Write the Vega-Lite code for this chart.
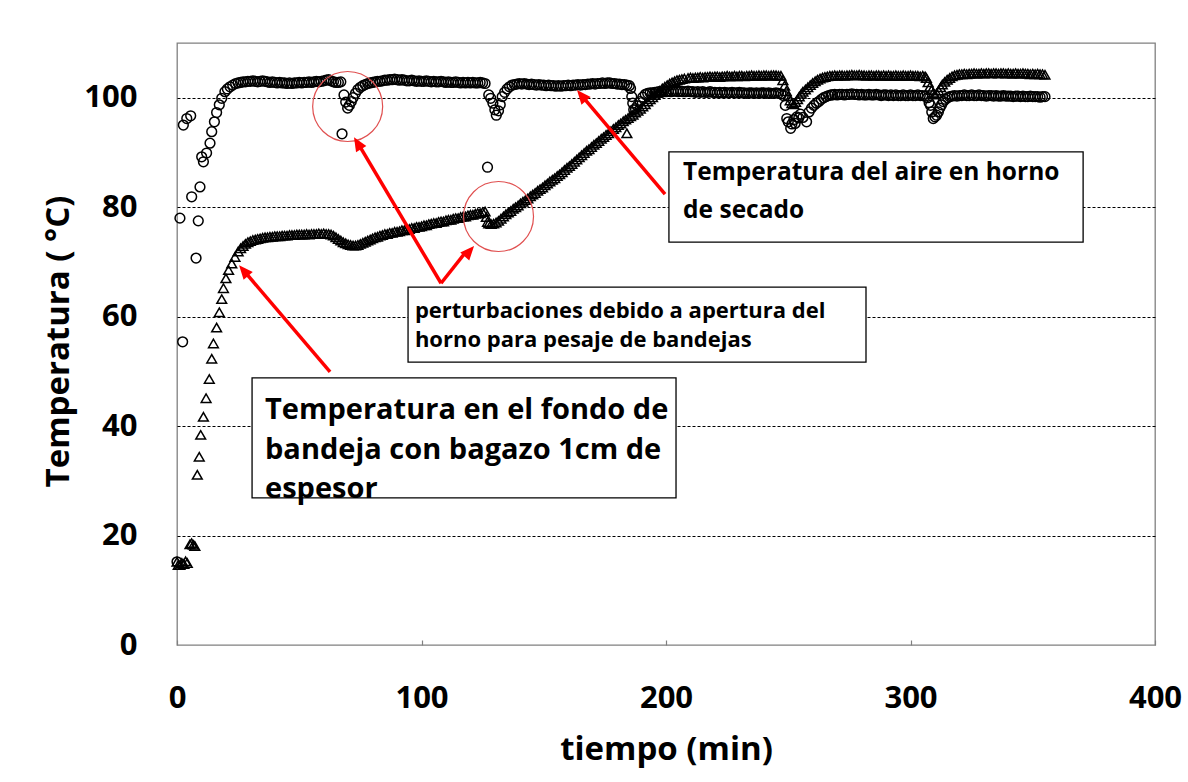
{
"$schema": "https://vega.github.io/schema/vega-lite/v6.json",
"width": 978,
"height": 602,
"autosize": {"type": "none"},
"padding": {"left": 177, "top": 43, "right": 33, "bottom": 137},
"background": "white",
"config": {"view": {"stroke": "#808080", "strokeWidth": 1.3}, "font": "Open Sans"},
"datasets": {
"aire": [
{"t":0,"v":15.2},{"t":1.2,"v":78},{"t":2.3,"v":55.4},{"t":2.6,"v":95},{"t":4,"v":96.2},{"t":5.6,"v":96.7},{"t":6,"v":81.9},{"t":7.8,"v":70.7},{"t":8.7,"v":77.5},{"t":9.4,"v":83.7},{"t":10.1,"v":89.2},{"t":10.8,"v":88.3},{"t":12.1,"v":89.9},{"t":13.5,"v":91.7},{"t":14.2,"v":93.8},{"t":15.3,"v":95.6},{"t":16.2,"v":97.3},{"t":17.3,"v":98.7},{"t":18.3,"v":99.9},{"t":19.6,"v":101.1},{"t":20.6,"v":101.6},{"t":21.7,"v":102},{"t":22.8,"v":102.3},{"t":24,"v":102.6},{"t":25,"v":102.7},{"t":26,"v":102.8},{"t":27,"v":102.9},{"t":28,"v":102.9},{"t":29,"v":103},
{"t":30,"v":103},{"t":31,"v":103.1},{"t":32,"v":103},{"t":33,"v":102.9},{"t":34,"v":103},{"t":35,"v":103.1},{"t":36,"v":103},{"t":37,"v":102.9},{"t":38,"v":102.8},{"t":39,"v":102.9},{"t":40,"v":102.8},{"t":41,"v":102.7},{"t":42,"v":102.8},{"t":43,"v":102.7},{"t":44,"v":102.7},{"t":45,"v":102.6},{"t":46,"v":102.7},{"t":47,"v":102.6},{"t":48,"v":102.7},{"t":49,"v":102.7},{"t":50,"v":102.8},{"t":51,"v":102.7},{"t":52,"v":102.8},{"t":53,"v":102.8},{"t":54,"v":102.9},{"t":55,"v":102.8},{"t":56,"v":102.9},{"t":57,"v":103},{"t":58,"v":102.9},{"t":59,"v":103},{"t":60,"v":103.1},{"t":61,"v":103.2},{"t":62,"v":103.3},{"t":63,"v":103.1},{"t":64,"v":102.9},{"t":65,"v":102.8},{"t":66,"v":102.8},{"t":67,"v":102.9},
{"t":67.5,"v":93.4},{"t":68.3,"v":100.5},{"t":69,"v":99.2},{"t":69.8,"v":98.1},{"t":70.5,"v":98.6},{"t":71.3,"v":99.3},{"t":72,"v":100},{"t":73,"v":100.8},{"t":74,"v":101.5},{"t":75,"v":101.9},{"t":76,"v":102.2},{"t":77,"v":102.4},{"t":78,"v":102.6},{"t":79,"v":102.7},{"t":80,"v":102.8},
{"t":81,"v":102.9},{"t":82,"v":103},{"t":83,"v":103},{"t":84,"v":103.1},{"t":85,"v":103.2},{"t":86,"v":103.2},{"t":87,"v":103.3},{"t":88,"v":103.3},{"t":89,"v":103.4},{"t":90,"v":103.3},{"t":91,"v":103.2},{"t":92,"v":103.3},{"t":93,"v":103.2},{"t":94,"v":103.1},{"t":95,"v":103.1},{"t":96,"v":103.2},{"t":97,"v":103.1},{"t":98,"v":103},{"t":99,"v":103.1},{"t":100,"v":103},{"t":101,"v":103},{"t":102,"v":103.1},{"t":103,"v":103},{"t":104,"v":102.9},{"t":105,"v":103},{"t":106,"v":102.9},{"t":107,"v":102.9},{"t":108,"v":103},{"t":109,"v":102.9},{"t":110,"v":102.8},{"t":111,"v":102.9},{"t":112,"v":102.8},{"t":113,"v":102.8},{"t":114,"v":102.9},{"t":115,"v":102.8},{"t":116,"v":102.7},{"t":117,"v":102.8},{"t":118,"v":102.7},{"t":119,"v":102.8},{"t":120,"v":102.7},{"t":121,"v":102.8},{"t":122,"v":102.7},{"t":123,"v":102.7},{"t":124,"v":102.8},{"t":125,"v":102.7},{"t":126,"v":102.6},
{"t":127,"v":87.3},{"t":127.5,"v":100.5},{"t":128.3,"v":99.9},{"t":129.2,"v":99},{"t":130,"v":97.8},{"t":130.6,"v":96.8},{"t":131.5,"v":97.6},{"t":132.2,"v":98.7},{"t":133,"v":100.2},{"t":134,"v":101},{"t":135,"v":101.6},{"t":136,"v":102},{"t":137,"v":102.3},{"t":138,"v":102.4},{"t":139,"v":102.5},
{"t":140,"v":102.6},{"t":141,"v":102.5},{"t":142,"v":102.6},{"t":143,"v":102.5},{"t":144,"v":102.4},{"t":145,"v":102.5},{"t":146,"v":102.4},{"t":147,"v":102.3},{"t":148,"v":102.4},{"t":149,"v":102.3},{"t":150,"v":102.3},{"t":151,"v":102.2},{"t":152,"v":102.3},{"t":153,"v":102.2},{"t":154,"v":102.2},{"t":155,"v":102.1},{"t":156,"v":102.2},{"t":157,"v":102.1},{"t":158,"v":102.2},{"t":159,"v":102.2},{"t":160,"v":102.3},{"t":161,"v":102.2},{"t":162,"v":102.3},{"t":163,"v":102.3},{"t":164,"v":102.4},{"t":165,"v":102.3},{"t":166,"v":102.4},{"t":167,"v":102.4},{"t":168,"v":102.5},{"t":169,"v":102.5},{"t":170,"v":102.6},{"t":171,"v":102.5},{"t":172,"v":102.6},{"t":173,"v":102.6},{"t":174,"v":102.7},{"t":175,"v":102.6},{"t":176,"v":102.7},{"t":177,"v":102.7},{"t":178,"v":102.6},{"t":179,"v":102.6},{"t":180,"v":102.5},{"t":181,"v":102.5},{"t":182,"v":102.4},{"t":183,"v":102.4},{"t":184,"v":102.3},{"t":185,"v":102.2},
{"t":185.5,"v":101.7},{"t":186,"v":100.2},{"t":186.4,"v":99},{"t":186.8,"v":97.8},{"t":187.5,"v":98},{"t":188.3,"v":98.5},{"t":189.4,"v":99.3},{"t":190.5,"v":100.1},{"t":191.5,"v":100.6},{"t":192.5,"v":100.8},{"t":193.5,"v":100.9},{"t":194.5,"v":100.9},{"t":195.5,"v":101},
{"t":196,"v":101},{"t":197,"v":101.1},{"t":198,"v":101},{"t":199,"v":101.1},{"t":200,"v":101.1},{"t":201,"v":101.2},{"t":202,"v":101.1},{"t":203,"v":101.2},{"t":204,"v":101.2},{"t":205,"v":101.1},{"t":206,"v":101.2},{"t":207,"v":101.1},{"t":208,"v":101.1},{"t":209,"v":101.2},{"t":210,"v":101.1},{"t":211,"v":101.1},{"t":212,"v":101},{"t":213,"v":101.1},{"t":214,"v":101},{"t":215,"v":101.1},{"t":216,"v":101},{"t":217,"v":101},{"t":218,"v":101.1},{"t":219,"v":101},{"t":220,"v":101},{"t":221,"v":100.9},{"t":222,"v":101},{"t":223,"v":100.9},{"t":224,"v":101},{"t":225,"v":100.9},{"t":226,"v":100.9},{"t":227,"v":101},{"t":228,"v":100.9},{"t":229,"v":100.9},{"t":230,"v":101},{"t":231,"v":100.9},{"t":232,"v":100.9},{"t":233,"v":100.8},{"t":234,"v":100.9},{"t":235,"v":100.9},{"t":236,"v":100.8},{"t":237,"v":100.9},{"t":238,"v":100.8},{"t":239,"v":100.9},{"t":240,"v":100.9},{"t":241,"v":100.8},{"t":242,"v":100.9},{"t":243,"v":100.8},{"t":244,"v":100.8},{"t":245,"v":100.9},{"t":246,"v":100.8},{"t":247,"v":100.7},{"t":248,"v":100.4},
{"t":248.8,"v":98.6},{"t":249.4,"v":96.2},{"t":250,"v":95.6},{"t":251,"v":94.4},{"t":251.5,"v":95.2},{"t":252.3,"v":96},{"t":252.8,"v":95.3},{"t":253.5,"v":96.5},{"t":254.3,"v":96.3},{"t":255,"v":97},{"t":256,"v":96.4},{"t":257.5,"v":95.6},{"t":258.5,"v":97.4},{"t":259.5,"v":98.1},{"t":260.5,"v":98.6},{"t":261.5,"v":99},{"t":262.5,"v":99.3},{"t":263.5,"v":99.7},{"t":264.5,"v":100},{"t":265.5,"v":100.2},{"t":266.5,"v":100.4},{"t":267.5,"v":100.5},
{"t":268,"v":100.5},{"t":269,"v":100.6},{"t":270,"v":100.5},{"t":271,"v":100.6},{"t":272,"v":100.6},{"t":273,"v":100.5},{"t":274,"v":100.6},{"t":275,"v":100.6},{"t":276,"v":100.7},{"t":277,"v":100.6},{"t":278,"v":100.6},{"t":279,"v":100.5},{"t":280,"v":100.6},{"t":281,"v":100.5},{"t":282,"v":100.5},{"t":283,"v":100.6},{"t":284,"v":100.5},{"t":285,"v":100.5},{"t":286,"v":100.6},{"t":287,"v":100.5},{"t":288,"v":100.4},{"t":289,"v":100.5},{"t":290,"v":100.5},{"t":291,"v":100.4},{"t":292,"v":100.5},{"t":293,"v":100.4},{"t":294,"v":100.5},{"t":295,"v":100.4},{"t":296,"v":100.4},{"t":297,"v":100.5},{"t":298,"v":100.4},{"t":299,"v":100.4},{"t":300,"v":100.5},{"t":301,"v":100.4},{"t":302,"v":100.4},{"t":303,"v":100.5},{"t":304,"v":100.4},{"t":305,"v":100.4},{"t":306,"v":100.3},{"t":307,"v":100},
{"t":307.6,"v":99.1},{"t":308.2,"v":98.6},{"t":308.7,"v":97.4},{"t":309.3,"v":96.2},{"t":310,"v":96.5},{"t":310.7,"v":96.8},{"t":311.4,"v":97.4},{"t":312,"v":98.1},{"t":312.7,"v":98.7},{"t":313.4,"v":99.3},{"t":314.3,"v":99.7},{"t":315.2,"v":100},{"t":316,"v":100.2},
{"t":317,"v":100.3},{"t":318,"v":100.4},{"t":319,"v":100.3},{"t":320,"v":100.4},{"t":321,"v":100.4},{"t":322,"v":100.5},{"t":323,"v":100.4},{"t":324,"v":100.4},{"t":325,"v":100.5},{"t":326,"v":100.4},{"t":327,"v":100.4},{"t":328,"v":100.5},{"t":329,"v":100.4},{"t":330,"v":100.4},{"t":331,"v":100.3},{"t":332,"v":100.4},{"t":333,"v":100.4},{"t":334,"v":100.3},{"t":335,"v":100.4},{"t":336,"v":100.3},{"t":337,"v":100.3},{"t":338,"v":100.4},{"t":339,"v":100.3},{"t":340,"v":100.3},{"t":341,"v":100.3},{"t":342,"v":100.2},{"t":343,"v":100.3},{"t":344,"v":100.3},{"t":345,"v":100.2},{"t":346,"v":100.3},{"t":347,"v":100.2},{"t":348,"v":100.2},{"t":349,"v":100.3},{"t":350,"v":100.2},{"t":351,"v":100.2},{"t":352,"v":100.2},{"t":353,"v":100.1},{"t":354,"v":100.2},{"t":355,"v":100.2}
],
"bandeja": [
{"t":0,"v":15.2},{"t":0.5,"v":14.6},{"t":1.2,"v":14.6},{"t":2,"v":15},{"t":2.8,"v":14.8},{"t":3.5,"v":15.3},{"t":4.2,"v":15},{"t":5.3,"v":18.4},{"t":6,"v":18.6},{"t":6.7,"v":18.3},{"t":7.3,"v":18.1},{"t":8.3,"v":31.1},{"t":9.1,"v":34.4},{"t":9.7,"v":38.4},{"t":10.8,"v":41.7},{"t":11.9,"v":45.1},{"t":13.2,"v":48.6},{"t":14.2,"v":52.3},{"t":14.9,"v":55.1},{"t":16.2,"v":58},{"t":17.3,"v":60.8},{"t":18.3,"v":63.2},{"t":19,"v":65.2},{"t":20,"v":67},{"t":21.1,"v":68.5},{"t":22.4,"v":69.7},{"t":23.7,"v":70.9},{"t":25,"v":71.9},{"t":26,"v":72.5},{"t":27,"v":72.9},{"t":28,"v":73.3},{"t":29,"v":73.6},{"t":30,"v":73.8},{"t":31,"v":74},{"t":32,"v":74.1},{"t":33,"v":74.2},{"t":34,"v":74.3},{"t":35,"v":74.4},{"t":36,"v":74.5},{"t":37,"v":74.5},{"t":38,"v":74.6},
{"t":39,"v":74.6},{"t":40,"v":74.7},{"t":41,"v":74.7},{"t":42,"v":74.7},{"t":43,"v":74.8},{"t":44,"v":74.8},{"t":45,"v":74.8},{"t":46,"v":74.9},{"t":47,"v":74.9},{"t":48,"v":74.9},{"t":49,"v":75},{"t":50,"v":75},{"t":51,"v":75},{"t":52,"v":75},{"t":53,"v":75.1},{"t":54,"v":75},{"t":55,"v":75.1},{"t":56,"v":75.1},{"t":57,"v":75.1},{"t":58,"v":75.2},{"t":59,"v":75.1},{"t":60,"v":75.2},{"t":61,"v":75.1},{"t":62,"v":75.1},{"t":63,"v":75},
{"t":64,"v":74.8},{"t":65,"v":74.5},{"t":66,"v":74.2},{"t":67,"v":73.9},{"t":68,"v":73.6},{"t":69,"v":73.4},{"t":70,"v":73.2},{"t":71,"v":73.1},{"t":72,"v":73},{"t":73,"v":73},{"t":74,"v":73.1},{"t":75,"v":73.3},{"t":76,"v":73.5},{"t":77,"v":73.7},{"t":78,"v":73.9},{"t":79,"v":74.1},{"t":80,"v":74.3},{"t":81,"v":74.5},{"t":82,"v":74.6},{"t":83,"v":74.8},
{"t":84,"v":74.9},{"t":85,"v":75.1},{"t":86,"v":75.1},{"t":87,"v":75.3},{"t":88,"v":75.3},{"t":89,"v":75.5},{"t":90,"v":75.5},{"t":91,"v":75.6},{"t":92,"v":75.8},{"t":93,"v":75.8},{"t":94,"v":76},{"t":95,"v":76},{"t":96,"v":76.2},{"t":97,"v":76.2},{"t":98,"v":76.4},{"t":99,"v":76.4},{"t":100,"v":76.5},{"t":101,"v":76.7},{"t":102,"v":76.7},{"t":103,"v":76.9},{"t":104,"v":77},{"t":105,"v":77.1},{"t":106,"v":77.1},{"t":107,"v":77.3},{"t":108,"v":77.4},{"t":109,"v":77.4},{"t":110,"v":77.6},{"t":111,"v":77.7},{"t":112,"v":77.7},{"t":113,"v":77.9},{"t":114,"v":78},{"t":115,"v":78},{"t":116,"v":78.2},{"t":117,"v":78.3},{"t":118,"v":78.3},{"t":119,"v":78.5},{"t":120,"v":78.6},{"t":121,"v":78.6},{"t":122,"v":78.8},{"t":123,"v":78.9},{"t":124,"v":78.9},{"t":125,"v":79.1},{"t":126,"v":79.2},
{"t":126.5,"v":78.2},{"t":127,"v":77.3},{"t":127.5,"v":77},{"t":128.5,"v":76.9},{"t":129.5,"v":77},{"t":130.5,"v":77.2},{"t":131.5,"v":77.5},{"t":132.5,"v":77.9},{"t":133.5,"v":78.3},{"t":134.5,"v":78.7},{"t":135.5,"v":79},{"t":136.5,"v":79.3},{"t":137.5,"v":79.7},{"t":138.5,"v":80},{"t":139.5,"v":80.3},{"t":140.5,"v":80.7},{"t":141.5,"v":81},{"t":142.5,"v":81.3},{"t":143.5,"v":81.6},{"t":144.5,"v":82},{"t":145.5,"v":82.3},{"t":146.5,"v":82.6},{"t":147.5,"v":83},{"t":148.5,"v":83.3},{"t":149.5,"v":83.6},{"t":150.5,"v":84},{"t":151.5,"v":84.3},{"t":152.5,"v":84.7},{"t":153.5,"v":85},{"t":154.5,"v":85.3},{"t":155.5,"v":85.7},{"t":156.5,"v":86},{"t":157.5,"v":86.4},{"t":158.5,"v":86.8},{"t":159.5,"v":87.2},{"t":160.5,"v":87.5},{"t":161.5,"v":87.9},{"t":162.5,"v":88.3},{"t":163.5,"v":88.7},{"t":164.5,"v":89.1},{"t":165.5,"v":89.5},{"t":166.5,"v":89.9},{"t":167.5,"v":90.3},{"t":168.5,"v":90.6},{"t":169.5,"v":91},{"t":170.5,"v":91.4},{"t":171.5,"v":91.7},{"t":172.5,"v":92.1},{"t":173.5,"v":92.5},{"t":174.5,"v":92.8},{"t":175.5,"v":93.2},{"t":176.5,"v":93.5},{"t":177.5,"v":93.9},{"t":178.5,"v":94.3},{"t":179.5,"v":94.6},{"t":180.5,"v":95},{"t":181.5,"v":95.3},{"t":182.5,"v":95.7},{"t":183.5,"v":96},{"t":184,"v":93.5},{"t":184.5,"v":96.3},{"t":185.5,"v":96.6},{"t":186.5,"v":96.9},{"t":187.5,"v":97.3},{"t":188.5,"v":97.6},{"t":189.5,"v":98},{"t":190.5,"v":98.4},{"t":191.5,"v":98.8},{"t":192.5,"v":99.3},{"t":193.5,"v":99.7},{"t":194.5,"v":100.1},{"t":195.5,"v":100.5},{"t":196.5,"v":100.9},{"t":197.5,"v":101.3},{"t":198.5,"v":101.7},{"t":199.5,"v":102},{"t":200.5,"v":102.3},{"t":201.5,"v":102.6},{"t":202.5,"v":102.8},{"t":203.5,"v":103},{"t":204.5,"v":103.2},{"t":205.5,"v":103.3},{"t":206.5,"v":103.4},{"t":207.5,"v":103.5},
{"t":209,"v":103.6},{"t":210,"v":103.7},{"t":211,"v":103.6},{"t":212,"v":103.7},{"t":213,"v":103.7},{"t":214,"v":103.8},{"t":215,"v":103.7},{"t":216,"v":103.8},{"t":217,"v":103.8},{"t":218,"v":103.9},{"t":219,"v":103.8},{"t":220,"v":103.9},{"t":221,"v":103.9},{"t":222,"v":103.8},{"t":223,"v":103.9},{"t":224,"v":103.9},{"t":225,"v":104},{"t":226,"v":103.9},{"t":227,"v":103.9},{"t":228,"v":104},{"t":229,"v":103.9},{"t":230,"v":104},{"t":231,"v":104},{"t":232,"v":103.9},{"t":233,"v":104},{"t":234,"v":104},{"t":235,"v":104.1},{"t":236,"v":104},{"t":237,"v":104},{"t":238,"v":104.1},{"t":239,"v":104},{"t":240,"v":104.1},{"t":241,"v":104.1},{"t":242,"v":104},{"t":243,"v":104.1},{"t":244,"v":104.1},{"t":245,"v":104.1},{"t":246,"v":104},{"t":247,"v":104},
{"t":247.8,"v":103.2},{"t":248.5,"v":102.2},{"t":249.2,"v":101.2},{"t":250,"v":100.3},{"t":250.8,"v":99.5},{"t":251.5,"v":99},{"t":252.3,"v":98.8},{"t":253,"v":99.2},{"t":253.8,"v":99.7},{"t":254.5,"v":100.2},{"t":255.3,"v":100.7},{"t":256,"v":101.1},{"t":257,"v":101.5},{"t":258,"v":101.9},{"t":259,"v":102.3},{"t":260,"v":102.7},{"t":261,"v":103},{"t":262,"v":103.3},{"t":263,"v":103.5},{"t":264,"v":103.7},{"t":265,"v":103.8},{"t":266,"v":103.9},{"t":267,"v":104},
{"t":268,"v":104},{"t":269,"v":104.1},{"t":270,"v":104},{"t":271,"v":104.1},{"t":272,"v":104.1},{"t":273,"v":104},{"t":274,"v":104.1},{"t":275,"v":104.1},{"t":276,"v":104.2},{"t":277,"v":104.1},{"t":278,"v":104.1},{"t":279,"v":104.2},{"t":280,"v":104.1},{"t":281,"v":104.1},{"t":282,"v":104},{"t":283,"v":104.1},{"t":284,"v":104.1},{"t":285,"v":104},{"t":286,"v":104.1},{"t":287,"v":104.1},{"t":288,"v":104},{"t":289,"v":104.1},{"t":290,"v":104},{"t":291,"v":104.1},{"t":292,"v":104},{"t":293,"v":104},{"t":294,"v":104.1},{"t":295,"v":104},{"t":296,"v":104},{"t":297,"v":104.1},{"t":298,"v":104},{"t":299,"v":104},{"t":300,"v":104.1},{"t":301,"v":104},{"t":302,"v":104},{"t":303,"v":104},{"t":304,"v":103.9},{"t":305,"v":104},{"t":306,"v":103.9},
{"t":306.5,"v":103.6},{"t":307.2,"v":102.8},{"t":307.9,"v":102},{"t":308.6,"v":101.4},{"t":309.3,"v":100.9},{"t":310,"v":100.6},{"t":310.8,"v":100.8},{"t":311.5,"v":101.3},{"t":312.3,"v":101.9},{"t":313,"v":102.4},{"t":314,"v":102.9},{"t":315,"v":103.3},{"t":316,"v":103.6},{"t":317,"v":103.9},{"t":318,"v":104.1},{"t":319,"v":104.2},{"t":320,"v":104.3},
{"t":321,"v":104.3},{"t":322,"v":104.4},{"t":323,"v":104.3},{"t":324,"v":104.4},{"t":325,"v":104.4},{"t":326,"v":104.5},{"t":327,"v":104.4},{"t":328,"v":104.4},{"t":329,"v":104.5},{"t":330,"v":104.4},{"t":331,"v":104.5},{"t":332,"v":104.5},{"t":333,"v":104.4},{"t":334,"v":104.5},{"t":335,"v":104.5},{"t":336,"v":104.4},{"t":337,"v":104.5},{"t":338,"v":104.5},{"t":339,"v":104.4},{"t":340,"v":104.5},{"t":341,"v":104.4},{"t":342,"v":104.4},{"t":343,"v":104.5},{"t":344,"v":104.4},{"t":345,"v":104.4},{"t":346,"v":104.5},{"t":347,"v":104.4},{"t":348,"v":104.4},{"t":349,"v":104.3},{"t":350,"v":104.4},{"t":351,"v":104.3},{"t":352,"v":104.4},{"t":353,"v":104.3},{"t":354,"v":104.3},{"t":355,"v":104.2}
],
"rings": [{"t":69.8,"v":98.4},{"t":131.5,"v":78.3}],
"arrows": [
{"id":"a","t":199.6,"v":82.4,"t2":165.7,"v2":100.3,"tt":163.6,"vt":101.4},
{"id":"b","t":108,"v":66.1,"t2":74.1,"v2":91.6,"tt":72.4,"vt":92.8},
{"id":"c","t":108,"v":66.1,"t2":118.1,"v2":71.8,"tt":121.5,"vt":72.9},
{"id":"d","t":62.6,"v":49.9,"t2":27.5,"v2":68.3,"tt":25.4,"vt":69.4}
],
"boxes": [
{"t":201.2,"v":90.1,"t2":370.6,"v2":73.6},
{"t":94.5,"v":65.4,"t2":281.8,"v2":51.7},
{"t":30.7,"v":48.8,"t2":204.1,"v2":26.9}
]
},
"encoding": {
"x": {"field": "t", "type": "quantitative", "scale": {"domain": [0, 400], "nice": false},
"axis": {"values": [0, 100, 200, 300, 400], "title": "tiempo (min)", "labelFontSize": 31, "labelFont": "Open Sans", "labelFontWeight": "bold", "labelColor": "black", "labelPadding": 43, "ticks": true, "tickSize": -5, "tickColor": "#808080", "tickWidth": 1.2, "domain": false, "grid": false, "labelFlush": false, "labelOverlap": false, "titleFont": "Open Sans", "titleFontSize": 33, "titleFontWeight": "bold", "titleColor": "black", "titleY": 104, "titleBaseline": "middle"}},
"y": {"field": "v", "type": "quantitative", "scale": {"domain": [0, 110], "nice": false},
"axis": {"values": [0, 20, 40, 60, 80, 100], "title": "Temperatura ( °C)", "labelFontSize": 31, "labelFont": "Open Sans", "labelFontWeight": "bold", "labelColor": "black", "labelPadding": 40, "ticks": false, "domain": false, "grid": true, "gridColor": "black", "gridDash": [3, 2], "gridWidth": 1.1, "gridOpacity": {"condition": {"test": "datum.value === 0", "value": 0}, "value": 1}, "titleFont": "Open Sans", "titleFontSize": 33, "titleFontWeight": "bold", "titleColor": "black", "titleAngle": -90, "titleX": -119, "titleY": 298, "titleAlign": "center", "titleBaseline": "middle"}}
},
"layer": [
{
"data": {"name": "aire"},
"mark": {"type": "point", "shape": "circle", "size": 95, "filled": false, "stroke": "black", "strokeWidth": 1.5, "opacity": 1}
},
{
"data": {"name": "bandeja"},
"mark": {"type": "point", "shape": "triangle-up", "size": 95, "filled": false, "stroke": "black", "strokeWidth": 1.5, "opacity": 1}
},
{
"data": {"name": "rings"},
"mark": {"type": "point", "shape": "circle", "size": 4900, "filled": false, "stroke": "#e05050", "strokeWidth": 1.2, "opacity": 1}
},
{
"data": {"name": "arrows"},
"mark": {"type": "rule", "color": "#ff0000", "strokeWidth": 3.5},
"encoding": {
"x2": {"field": "t2"},
"y2": {"field": "v2"}
}
},
{
"data": {"name": "arrows"},
"transform": [{"filter": "datum.id === 'a'"}],
"mark": {"type": "point", "shape": "M0,0L-1.5,3.5L1.5,3.5Z", "size": 64, "filled": true, "color": "#ff0000", "opacity": 1, "angle": -40.2},
"encoding": {"x": {"field": "tt", "type": "quantitative"}, "y": {"field": "vt", "type": "quantitative"}}
},
{
"data": {"name": "arrows"},
"transform": [{"filter": "datum.id === 'b'"}],
"mark": {"type": "point", "shape": "M0,0L-1.5,3.5L1.5,3.5Z", "size": 64, "filled": true, "color": "#ff0000", "opacity": 1, "angle": -30.8},
"encoding": {"x": {"field": "tt", "type": "quantitative"}, "y": {"field": "vt", "type": "quantitative"}}
},
{
"data": {"name": "arrows"},
"transform": [{"filter": "datum.id === 'c'"}],
"mark": {"type": "point", "shape": "M0,0L-1.5,3.5L1.5,3.5Z", "size": 64, "filled": true, "color": "#ff0000", "opacity": 1, "angle": 41.7},
"encoding": {"x": {"field": "tt", "type": "quantitative"}, "y": {"field": "vt", "type": "quantitative"}}
},
{
"data": {"name": "arrows"},
"transform": [{"filter": "datum.id === 'd'"}],
"mark": {"type": "point", "shape": "M0,0L-1.5,3.5L1.5,3.5Z", "size": 64, "filled": true, "color": "#ff0000", "opacity": 1, "angle": -40.4},
"encoding": {"x": {"field": "tt", "type": "quantitative"}, "y": {"field": "vt", "type": "quantitative"}}
},
{
"data": {"name": "boxes"},
"mark": {"type": "rect", "fill": "white", "stroke": "black", "strokeWidth": 1.3},
"encoding": {
"x2": {"field": "t2"},
"y2": {"field": "v2"}
}
},
{
"data": {"values": [
{"t": 207, "v": 86.2, "txt": "Temperatura del aire en horno"},
{"t": 207, "v": 79.3, "txt": "de secado"}
]},
"mark": {"type": "text", "align": "left", "baseline": "middle", "font": "Open Sans", "fontWeight": "bold", "fontSize": 24.5, "color": "black"},
"encoding": {"text": {"field": "txt"}}
},
{
"data": {"values": [
{"t": 97.3, "v": 61.0, "txt": "perturbaciones debido a apertura del"},
{"t": 97.3, "v": 55.7, "txt": "horno para pesaje de bandejas"}
]},
"mark": {"type": "text", "align": "left", "baseline": "middle", "font": "Open Sans", "fontWeight": "bold", "fontSize": 22, "color": "black"},
"encoding": {"text": {"field": "txt"}}
},
{
"data": {"values": [
{"t": 36, "v": 42.9, "txt": "Temperatura en el fondo de"},
{"t": 36, "v": 35.6, "txt": "bandeja con bagazo 1cm de"},
{"t": 36, "v": 28.5, "txt": "espesor"}
]},
"mark": {"type": "text", "align": "left", "baseline": "middle", "font": "Open Sans", "fontWeight": "bold", "fontSize": 29, "color": "black"},
"encoding": {"text": {"field": "txt"}}
}
]
}
